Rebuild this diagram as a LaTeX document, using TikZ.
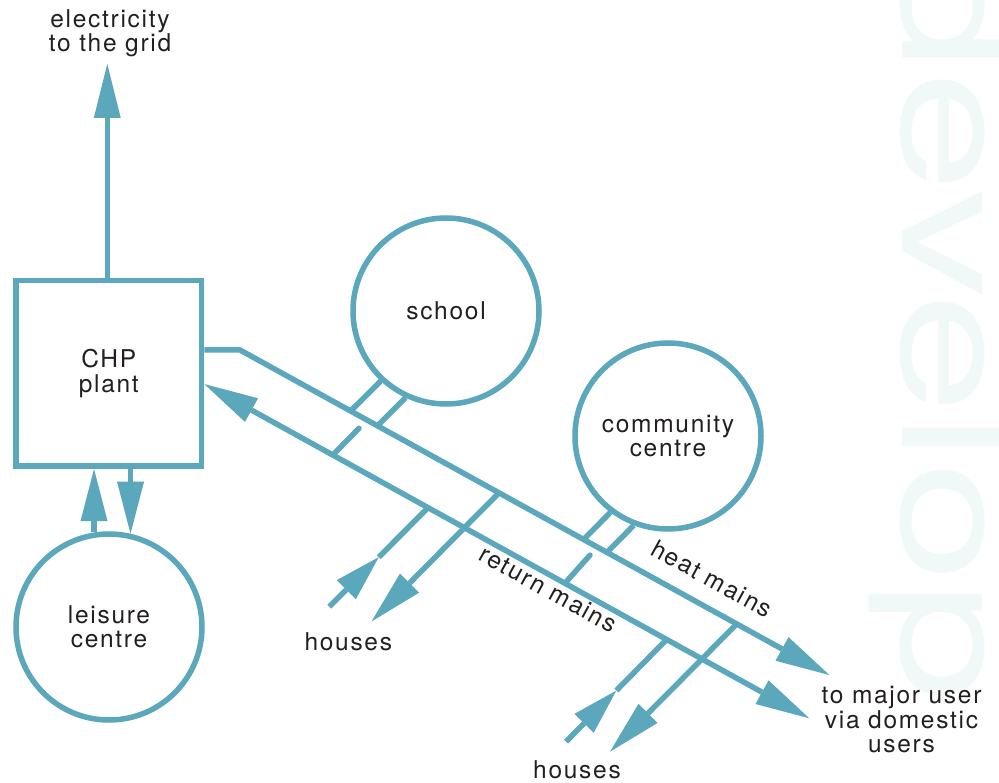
\documentclass[tikz,border=0pt]{standalone}
\usepackage{graphicx}
\usepackage{fontspec}
\setmainfont{TeX Gyre Heros}
\newfontfamily\lblfont[LetterSpace=7]{TeX Gyre Heros}
\newfontfamily\wmfont{TeX Gyre Heros}
\usetikzlibrary{arrows.meta,calc}
\definecolor{pipe}{RGB}{91,167,188}
\definecolor{ink}{RGB}{35,31,32}
\definecolor{wmark}{RGB}{241,248,248}
\tikzset{
  pipeline/.style={draw=pipe, line width=5.5pt},
  lbl/.style={text=ink, font=\lblfont\fontsize{24.5}{24.4}\selectfont, align=center, inner sep=0pt},
  bigtip/.style={-{Triangle[length=54pt,width=27pt,line width=0pt]}},
  midtip/.style={-{Triangle[length=52pt,width=27pt,line width=0pt]}},
  smalltip/.style={-{Triangle[length=46pt,width=27pt,line width=0pt]}},
  bothtip/.style={{Triangle[length=54pt,width=27pt,line width=0pt]}-{Triangle[length=54pt,width=27pt,line width=0pt]}},
  station/.style={circle, draw=pipe, line width=5.5pt, minimum size=186pt, inner sep=0pt,
    text=ink, font=\lblfont\fontsize{24.5}{24.4}\selectfont, align=center},
  plantbox/.style={rectangle, draw=pipe, line width=5.5pt, minimum size=185.5pt, inner sep=0pt,
    text=ink, font=\lblfont\fontsize{24.5}{24.4}\selectfont, align=center}
}
\begin{document}
\begin{tikzpicture}[x=1pt,y=-1pt]
\useasboundingbox (0,0) rectangle (999,783);
\clip (0,0) rectangle (999,783);
\fill[white] (0,0) rectangle (999,783);

% faint watermark
\node[text=wmark, rotate=-90, anchor=base west, inner sep=0pt, outer sep=0pt] (wmk) at (902,-49)
  {\scalebox{1.418}[1]{\wmfont\fontsize{153}{153}\selectfont develop}};

% nodes
\node[plantbox] (chp) at (108.75,373.5) {CHP\\plant};
\node[station] (leisure) at (109,627) {leisure\\centre};
\node[station] (school) at (446,311) {school};
\node[station] (community) at (668,436) {community\\centre};

% electricity to grid
\coordinate (grid) at (107.3,64);
\draw[pipeline, bigtip] (chp.north -| grid) -- (grid);
\node[lbl] (gridlbl) at (110,33.5) {electricity\\to the grid};

% leisure centre loop
\draw[pipeline, midtip] (leisure.99) -- (leisure.99 |- chp.south);
\draw[pipeline, midtip] (chp.south -| leisure.77) -- (leisure.77);

% heat mains
\coordinate (hb) at (240,350);
\coordinate (ht) at (829.3,675);
\draw[pipeline, bigtip] (chp.east |- hb) -- (hb) -- (ht);

% return mains
\coordinate (rl) at (205,384);
\coordinate (rr) at (809.3,718.3);
\draw[pipeline, bothtip] (chp.east |- rl) -- (rr);

% school branches
\coordinate (sA) at ($(hb)!0.1877!(ht)$);
\coordinate (sB) at ($(hb)!0.2333!(ht)$);
\draw[pipeline] (sA) -- (school.227);
\draw[pipeline] (sB) -- (school.245);
\coordinate (sC) at ($(rl)!0.2118!(rr)$);
\coordinate (sCe) at ($(sC)+(26,-26.5)$);
\draw[pipeline, line cap=round] (sC) -- (sCe);

% community branches
\coordinate (cA) at ($(hb)!0.5829!(ht)$);
\coordinate (cB) at ($(hb)!0.6226!(ht)$);
\draw[pipeline] (cA) -- (community.233);
\draw[pipeline] (cB) -- (community.249);
\coordinate (cC) at ($(rl)!0.5957!(rr)$);
\coordinate (cCe) at ($(cC)+(25,-28)$);
\draw[pipeline, line cap=round] (cC) -- (cCe);

% houses 1
\coordinate (h1j) at ($(hb)!0.4395!(ht)$);
\coordinate (h1d) at (371.5,621.5);
\draw[pipeline, bigtip] (h1j) -- (h1d);
\coordinate (h1r) at ($(rl)!0.3695!(rr)$);
\coordinate (h1t) at (329.3,606.7);
\coordinate (h1m) at ($(h1t)!0.5!(h1r)$);
\draw[pipeline, smalltip] (h1t) -- (h1m);
\draw[pipeline] (h1m) -- (h1r);
\node[lbl, anchor=base] (houses1) at (348.3,650.7) {houses};

% houses 2
\coordinate (h2j) at ($(hb)!0.8429!(ht)$);
\coordinate (h2d) at (610,751.7);
\draw[pipeline, bigtip] (h2j) -- (h2d);
\coordinate (h2r) at ($(rl)!0.764!(rr)$);
\coordinate (h2t) at (566,741.7);
\coordinate (h2m) at ($(h2t)!0.5!(h2r)$);
\draw[pipeline, smalltip] (h2t) -- (h2m);
\draw[pipeline] (h2m) -- (h2r);
\node[lbl, anchor=base] (houses2) at (577,778) {houses};

% labels on mains
\node[lbl, anchor=mid, rotate=-28.87] (heatlbl) at (709,584) {heat mains};
\node[lbl, anchor=mid, rotate=-28.87] (retlbl) at (545.5,594.5) {return mains};

\node[lbl] (majorlbl) at (901.5,719.6) {to major user\\via domestic\\users};
\end{tikzpicture}
\end{document}
